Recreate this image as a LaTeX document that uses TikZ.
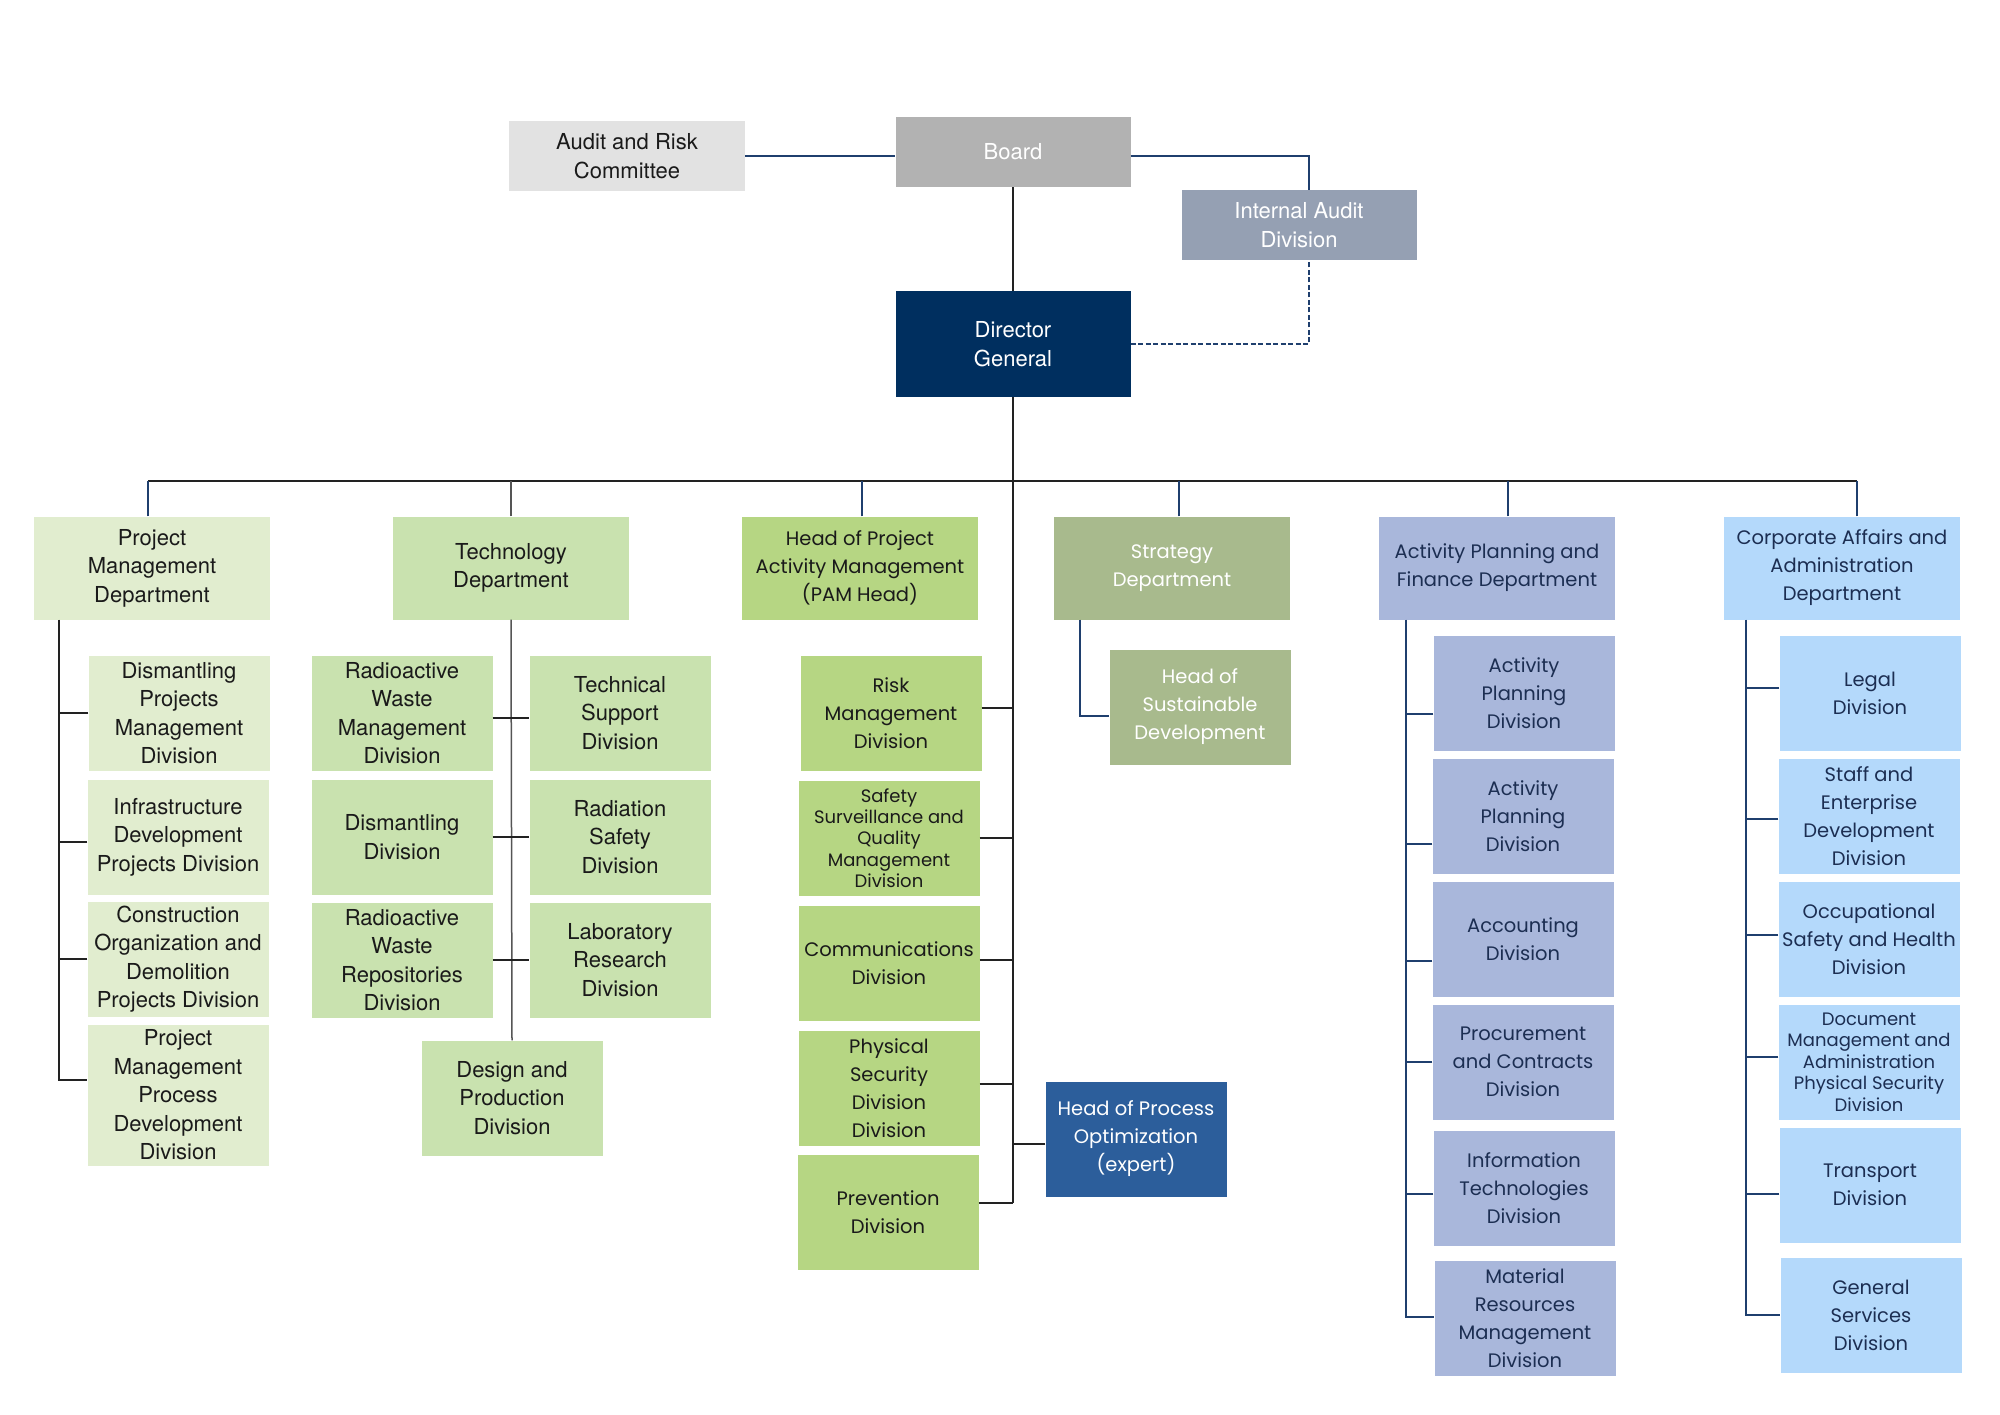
\documentclass[tikz,border=0pt]{standalone}
\usepackage{fontspec}
\setmainfont{TeX Gyre Heros}
\newfontfamily\geo{Poppins}
\usetikzlibrary{calc}
\definecolor{cAudit}{HTML}{E2E2E2}
\definecolor{cBoard}{HTML}{B2B2B2}
\definecolor{cIA}{HTML}{95A0B3}
\definecolor{cDG}{HTML}{002F5F}
\definecolor{cPM}{HTML}{E1EDCF}
\definecolor{cTech}{HTML}{C9E2AF}
\definecolor{cPAM}{HTML}{B6D683}
\definecolor{cStrat}{HTML}{A8BA8D}
\definecolor{cAPF}{HTML}{A9B7DB}
\definecolor{cCA}{HTML}{B4D9FB}
\definecolor{cHPO}{HTML}{2C5E9B}
\definecolor{cNavy}{HTML}{1F3F6E}
\definecolor{cLine}{HTML}{222222}
\definecolor{cGray}{HTML}{555555}
\definecolor{cTxt}{HTML}{1A1A1A}
\definecolor{cNavyTxt}{HTML}{1C2E52}
\tikzset{
  box/.style={rectangle, inner sep=0pt, align=center},
  helv/.style={font=\fontsize{22}{28.5}\selectfont},
  geof/.style={font=\geo\fontsize{19.5}{28}\selectfont},
  geosm/.style={font=\geo\fontsize{18}{21.4}\selectfont},
  dims/.style 2 args={minimum width=#1pt, minimum height=#2pt},
  div/.style={dims={181}{115}},
  dept/.style={dims={236}{103}},
  pmbox/.style={box, fill=cPM, text=cTxt, helv},
  techbox/.style={box, fill=cTech, text=cTxt, helv},
  pambox/.style={box, fill=cPAM, text=cTxt, geof},
  stratbox/.style={box, fill=cStrat, text=white, geof},
  apfbox/.style={box, fill=cAPF, text=cNavyTxt, geof},
  cabox/.style={box, fill=cCA, text=cNavyTxt, geof},
  ln/.style={draw=cLine, line width=1.7pt},
  gl/.style={draw=cGray, line width=1.5pt},
  nv/.style={draw=cNavy, line width=1.7pt},
}
\begin{document}
\begin{tikzpicture}[x=1pt,y=-1pt]
\useasboundingbox[fill=white] (0,0) rectangle (2000,1414);

% top
\node[box, fill=cAudit, text=cTxt, helv, dims={236}{70}] (audit) at (627,156) {Audit and Risk\\Committee};
\node[box, fill=cBoard, text=white, helv, dims={235}{70}] (board) at (1013,152) {Board};
\node[box, fill=cIA, text=white, helv, dims={235}{70}] (ia) at (1299,225) {Internal Audit\\Division};
\node[box, fill=cDG, text=white, helv, dims={235}{106}] (dg) at (1013,344) {Director\\General};

% departments
\node[pmbox, dept] (pmd) at (152,568) {Project\\Management\\Department};
\node[techbox, dept] (tech) at (511,568) {Technology\\Department};
\node[pambox, dept] (pam) at (860,568) {Head of Project\\Activity Management\\(PAM Head)};
\node[stratbox, dept] (strat) at (1172,568) {Strategy\\Department};
\node[apfbox, dept] (apf) at (1497,568) {Activity Planning and\\Finance Department};
\node[cabox, dept] (ca) at (1842,568) {Corporate Affairs and\\Administration\\Department};

% project management divisions
\node[pmbox, div] (pm1) at (179,713) {Dismantling\\Projects\\Management\\Division};
\node[pmbox, div] (pm2) at (178,837) {Infrastructure\\Development\\Projects Division};
\node[pmbox, div] (pm3) at (178,959) {Construction\\Organization and\\Demolition\\Projects Division};
\node[pmbox, dims={181}{141}] (pm4) at (178,1095) {Project\\Management\\Process\\Development\\Division};

% technology divisions
\node[techbox, div] (t1) at (402,713) {Radioactive\\Waste\\Management\\Division};
\node[techbox, div] (t2) at (620,713) {Technical\\Support\\Division};
\node[techbox, div] (t3) at (402,837) {Dismantling\\Division};
\node[techbox, div] (t4) at (620,837) {Radiation\\Safety\\Division};
\node[techbox, div] (t5) at (402,960) {Radioactive\\Waste\\Repositories\\Division};
\node[techbox, div] (t6) at (620,960) {Laboratory\\Research\\Division};
\node[techbox, div] (t7) at (512,1098) {Design and\\Production\\Division};

% PAM divisions
\node[pambox, div] (p1) at (891,713) {Risk\\Management\\Division};
\node[pambox, div, geosm] (p2) at (889,838) {Safety\\Surveillance and\\Quality\\Management\\Division};
\node[pambox, div] (p3) at (889,963) {Communications\\Division};
\node[pambox, div] (p4) at (889,1088) {Physical\\Security\\Division\\Division};
\node[pambox, div] (p5) at (888,1212) {Prevention\\Division};
\node[box, fill=cHPO, text=white, geof, div] (hpo) at (1136,1139) {Head of Process\\Optimization\\(expert)};

% strategy
\node[stratbox, div] (hsd) at (1200,707) {Head of\\Sustainable\\Development};

% APF divisions
\node[apfbox, div] (a1) at (1524,693) {Activity\\Planning\\Division};
\node[apfbox, div] (a2) at (1523,816) {Activity\\Planning\\Division};
\node[apfbox, div] (a3) at (1523,939) {Accounting\\Division};
\node[apfbox, div] (a4) at (1523,1062) {Procurement\\and Contracts\\Division};
\node[apfbox, div] (a5) at (1524,1188) {Information\\Technologies\\Division};
\node[apfbox, div] (a6) at (1525,1318) {Material\\Resources\\Management\\Division};

% CA divisions
\node[cabox, div] (c1) at (1870,693) {Legal\\Division};
\node[cabox, div] (c2) at (1869,816) {Staff and\\Enterprise\\Development\\Division};
\node[cabox, div] (c3) at (1869,939) {Occupational\\Safety and Health\\Division};
\node[cabox, div, geosm] (c4) at (1869,1062) {Document\\Management and\\Administration\\Physical Security\\Division};
\node[cabox, div] (c5) at (1870,1185) {Transport\\Division};
\node[cabox, div] (c6) at (1871,1315) {General\\Services\\Division};

% helper x positions
\coordinate (bus) at (1013,481);
\coordinate (xpm) at (148,0);
\coordinate (xpam) at (862,0);
\coordinate (xst) at (1179,0);
\coordinate (xapf) at (1508,0);
\coordinate (xca) at (1857,0);
\coordinate (iax) at (1309,0);

% connectors top
\draw[ln] (board) -- (dg);
\draw[nv] (audit.east) -- (audit.east -| board.west);
\draw[nv] (board.east |- audit.east) -| (ia.north -| iax);
\draw[nv, dash pattern=on 5pt off 2.5pt] (dg.east) -| (ia.south -| iax);
\draw[ln, line width=2.4pt] (bus -| xpm) -- (bus -| xca);
\draw[ln] (dg.south) -- ([yshift=9pt]p5.east -| dg.south);
\draw[nv] (pmd.north -| xpm) -- (bus -| xpm);
\draw[gl] (tech.north) -- (tech.north |- bus);
\draw[nv] (pam.north -| xpam) -- (bus -| xpam);
\draw[nv] (strat.north -| xst) -- (bus -| xst);
\draw[nv] (apf.north -| xapf) -- (bus -| xapf);
\draw[nv] (ca.north -| xca) -- (bus -| xca);

% project management spine
\coordinate (pmsp) at (59,0);
\draw[ln] (pmd.south -| pmsp) |- ([yshift=15pt]pm4.west);
\draw[ln] (pm1.west) -- (pm1.west -| pmsp);
\draw[ln] ([yshift=-5pt]pm2.west) -- ([yshift=-5pt]pm2.west -| pmsp);
\draw[ln] (pm3.west) -- (pm3.west -| pmsp);

% technology
\draw[gl] (tech.south) -- (t7.north);
\draw[ln] ([yshift=-5pt]t1.east) -- ([yshift=-5pt]t2.west);
\draw[ln] (t3.east) -- (t4.west);
\draw[ln] (t5.east) -- (t6.west);

% PAM
\draw[ln] ([yshift=5pt]p1.east) -- ([yshift=5pt]p1.east -| dg.south);
\draw[ln] (p2.east) -- (p2.east -| dg.south);
\draw[ln] ([yshift=3pt]p3.east) -- ([yshift=3pt]p3.east -| dg.south);
\draw[ln] ([yshift=4pt]p4.east) -- ([yshift=4pt]p4.east -| dg.south);
\draw[ln] ([yshift=9pt]p5.east) -- ([yshift=9pt]p5.east -| dg.south);
\draw[ln] ([yshift=-5pt]hpo.west) -- ([yshift=-5pt]hpo.west -| dg.south);

% strategy
\coordinate (stsp) at (1080,0);
\draw[nv] (strat.south -| stsp) |- ([yshift=-9pt]hsd.west);

% APF
\coordinate (apsp) at (1406,0);
\draw[nv] (apf.south -| apsp) |- ([yshift=1pt]a6.west);
\draw[nv] ([yshift=-21pt]a1.west) -- ([yshift=-21pt]a1.west -| apsp);
\draw[nv] ([yshift=-28pt]a2.west) -- ([yshift=-28pt]a2.west -| apsp);
\draw[nv] ([yshift=-22pt]a3.west) -- ([yshift=-22pt]a3.west -| apsp);
\draw[nv] (a4.west) -- (a4.west -| apsp);
\draw[nv] ([yshift=-6pt]a5.west) -- ([yshift=-6pt]a5.west -| apsp);

% CA
\coordinate (casp) at (1746,0);
\draw[nv] (ca.south -| casp) |- (c6.west);
\draw[nv] ([yshift=5pt]c1.west) -- ([yshift=5pt]c1.west -| casp);
\draw[nv] ([yshift=-3pt]c2.west) -- ([yshift=-3pt]c2.west -| casp);
\draw[nv] ([yshift=4pt]c3.west) -- ([yshift=4pt]c3.west -| casp);
\draw[nv] ([yshift=5pt]c4.west) -- ([yshift=5pt]c4.west -| casp);
\draw[nv] ([yshift=-9pt]c5.west) -- ([yshift=-9pt]c5.west -| casp);
\end{tikzpicture}
\end{document}
